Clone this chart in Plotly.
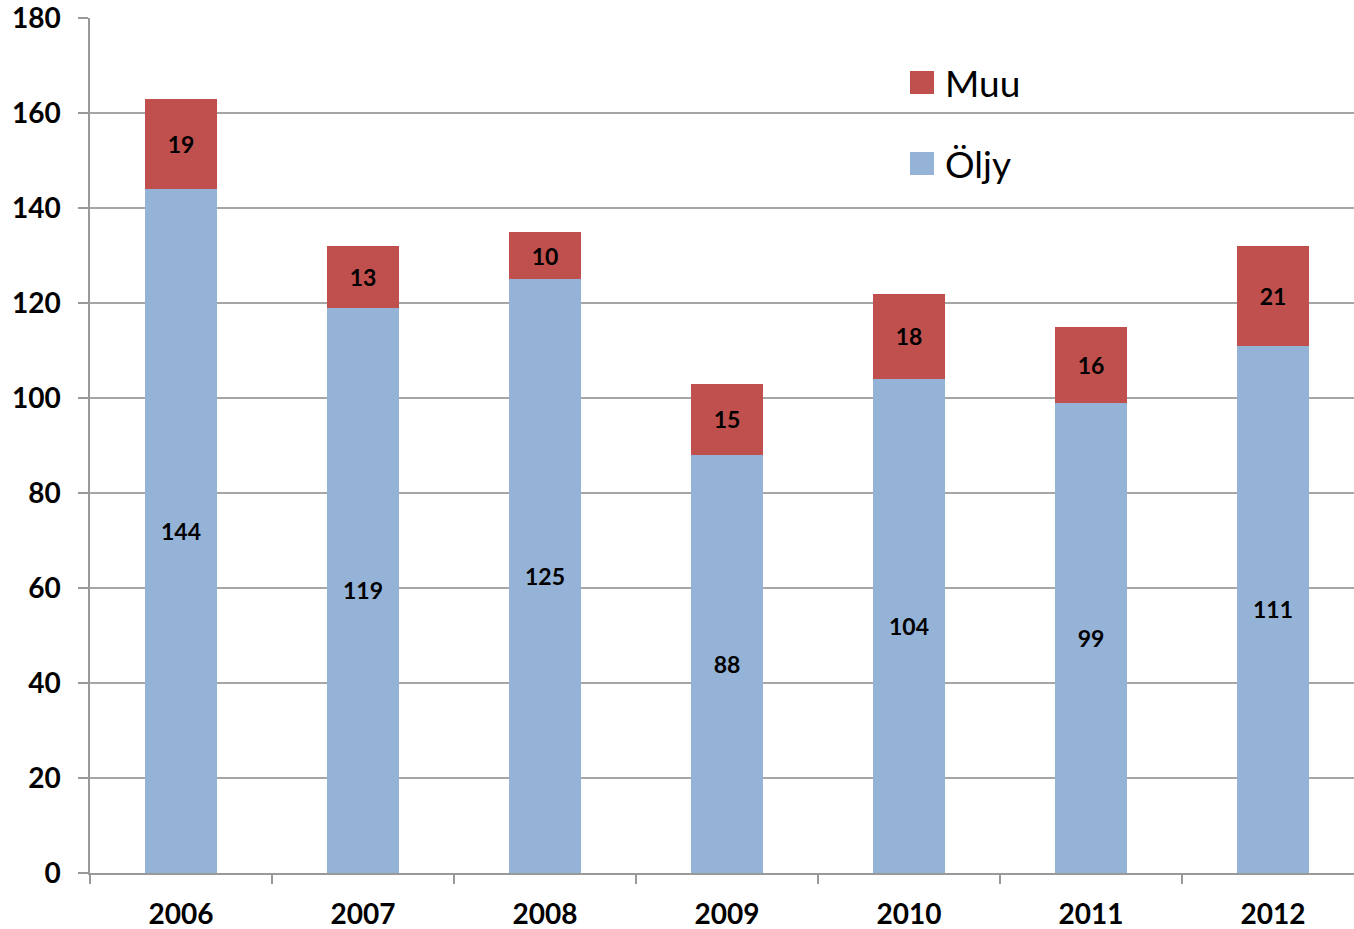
import plotly.graph_objects as go

years = ["2006", "2007", "2008", "2009", "2010", "2011", "2012"]
oljy = [144, 119, 125, 88, 104, 99, 111]
muu = [19, 13, 10, 15, 18, 16, 21]
series_names = ["Öljy", "Muu"]
colors = ["#95B3D7", "#C0504D"]
y_ticks = [0, 20, 40, 60, 80, 100, 120, 140, 160, 180]

W, H = 1354, 929
ML, MR, MT, MB = 90, 0, 18, 56
PW, PH = W - ML - MR, H - MT - MB
CAT_PX = 182

label_font = dict(family="Lato", size=23, color="black", weight="bold")
tick_font = dict(family="Lato", size=28, color="black", weight="bold")

fig = go.Figure()
for name, vals, col in zip(series_names, [oljy, muu], colors):
    fig.add_trace(go.Bar(
        x=years, y=vals, name=name, marker=dict(color=col, line=dict(width=0)),
        width=0.4, text=[str(v) for v in vals], textposition="inside",
        insidetextanchor="middle", textangle=0, textfont=label_font,
        constraintext="none", showlegend=False, hoverinfo="x+y+name",
    ))

x_range = [-0.5, -0.5 + PW / CAT_PX]

fig.update_layout(
    width=W, height=H, barmode="stack",
    margin=dict(l=ML, r=MR, t=MT, b=MB, pad=0),
    paper_bgcolor="white", plot_bgcolor="white",
    showlegend=False,
    xaxis=dict(type="category", range=x_range, tickson="boundaries",
               ticks="outside", ticklen=9, tickcolor="#999999", tickwidth=1.5,
               showline=True, linecolor="#999999", linewidth=1.5,
               showgrid=False, tickfont=tick_font, ticklabelstandoff=16,
               ticklabeloverflow="allow", fixedrange=True),
    yaxis=dict(range=[0, 180.02], tickvals=y_ticks, ticks="outside", ticklen=10,
               tickcolor="#999999", tickwidth=1.5, showline=True,
               linecolor="#999999", linewidth=1.5, showgrid=True,
               gridcolor="#A6A6A6", gridwidth=1.5, zeroline=False,
               tickfont=tick_font, ticklabelstandoff=12,
               ticklabeloverflow="allow", fixedrange=True),
)

def px_to_paper_x(px):
    return (px - ML) / PW

def px_to_paper_y(py):
    return (H - MB - py) / PH

# custom legend (Muu on top, Öljy below)
legend_items = [("Muu", colors[1], 71), ("Öljy", colors[0], 152)]
for name, col, top in legend_items:
    fig.add_shape(type="rect", xref="paper", yref="paper",
                  x0=px_to_paper_x(910), x1=px_to_paper_x(934),
                  y0=px_to_paper_y(top + 23), y1=px_to_paper_y(top),
                  fillcolor=col, line=dict(width=0))
    fig.add_annotation(xref="paper", yref="paper",
                       x=px_to_paper_x(943), y=px_to_paper_y(top + 11.5),
                       xanchor="left", yanchor="middle", showarrow=False,
                       text=name, font=dict(family="Lato", size=37, color="black"))

fig.write_html("out.html", config={"displayModeBar": False},
               post_script="document.body.style.margin='0';")
